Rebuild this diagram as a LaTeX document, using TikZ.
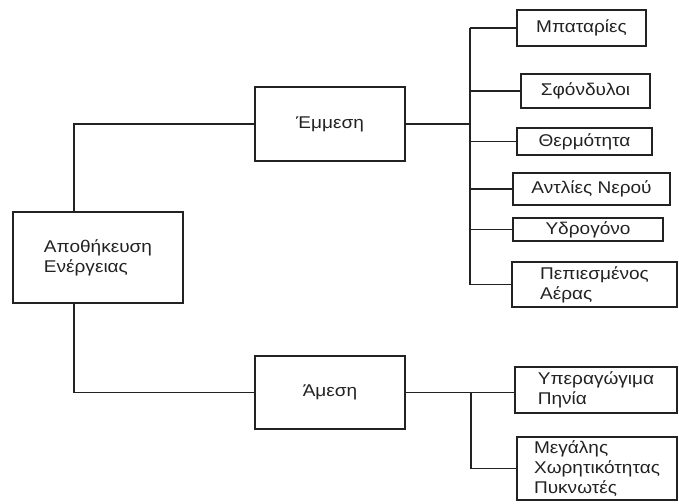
\documentclass[tikz,border=0pt]{standalone}
\usepackage{fontspec}
\setmainfont{Liberation Sans}[FakeStretch=1.12]
\definecolor{ink}{HTML}{222222}
\begin{document}
\begin{tikzpicture}[x=1pt,y=-1pt,
  box/.style={draw=ink, line width=1.8pt, rectangle, inner sep=0pt,
              font=\fontsize{17}{20}\selectfont, text=ink},
  multi/.style={align=left},
  link/.style={draw=ink, line width=1.5pt}]
\useasboundingbox (0,0) rectangle (679,503);

% main boxes
\node[box, multi, minimum width=170, minimum height=91] (root) at (98,257.5)
  {Αποθήκευση\\Ενέργειας};
\node[box, minimum width=150, minimum height=74] (emm) at (330,124) {Έμμεση};
\node[box, minimum width=150, minimum height=73] (ame) at (330,392.5) {Άμεση};

% indirect storage methods
\node[box, minimum width=129, minimum height=36] (l1) at (581.5,28) {Μπαταρίες};
\node[box, minimum width=129, minimum height=34] (l2) at (585.5,91) {Σφόνδυλοι};
\node[box, minimum width=135, minimum height=27] (l3) at (584.5,141.5) {Θερμότητα};
\node[box, minimum width=157, minimum height=32] (l4) at (591.5,189) {Αντλίες Νερού};
\node[box, minimum width=150, minimum height=23] (l5) at (588,229.5) {Υδρογόνο};
\node[box, multi, minimum width=165, minimum height=45] (l6) at (594.5,284.5)
  {Πεπιεσμένος\\Αέρας};

% direct storage methods
\node[box, multi, minimum width=162, minimum height=46] (l7) at (596,390)
  {Υπεραγώγιμα\\Πηνία};
\node[box, multi, minimum width=160, minimum height=63] (l8) at (597,468.5)
  {Μεγάλης\\Χωρητικότητας\\Πυκνωτές};

% bus lines
\coordinate (trunk) at (74,0);
\coordinate (bus1) at (470,0);
\coordinate (bus2) at (471,0);

% root to the two categories
\draw[link] (root.north -| trunk) |- (emm.west);
\draw[link] (root.south -| trunk) |- (ame.west);

% indirect branch
\draw[link] (emm.east) -- (emm.east -| bus1);
\draw[link] (bus1 |- l1.west) -- (bus1 |- l6.west);
\foreach \n in {l1,l2,l3,l4,l5,l6}
  \draw[link] (bus1 |- \n.west) -- (\n.west);

% direct branch
\draw[link] (ame.east) -- (ame.east -| l7.west);
\draw[link] (bus2 |- ame.east) -- (bus2 |- l8.west) -- (l8.west);
\end{tikzpicture}
\end{document}
